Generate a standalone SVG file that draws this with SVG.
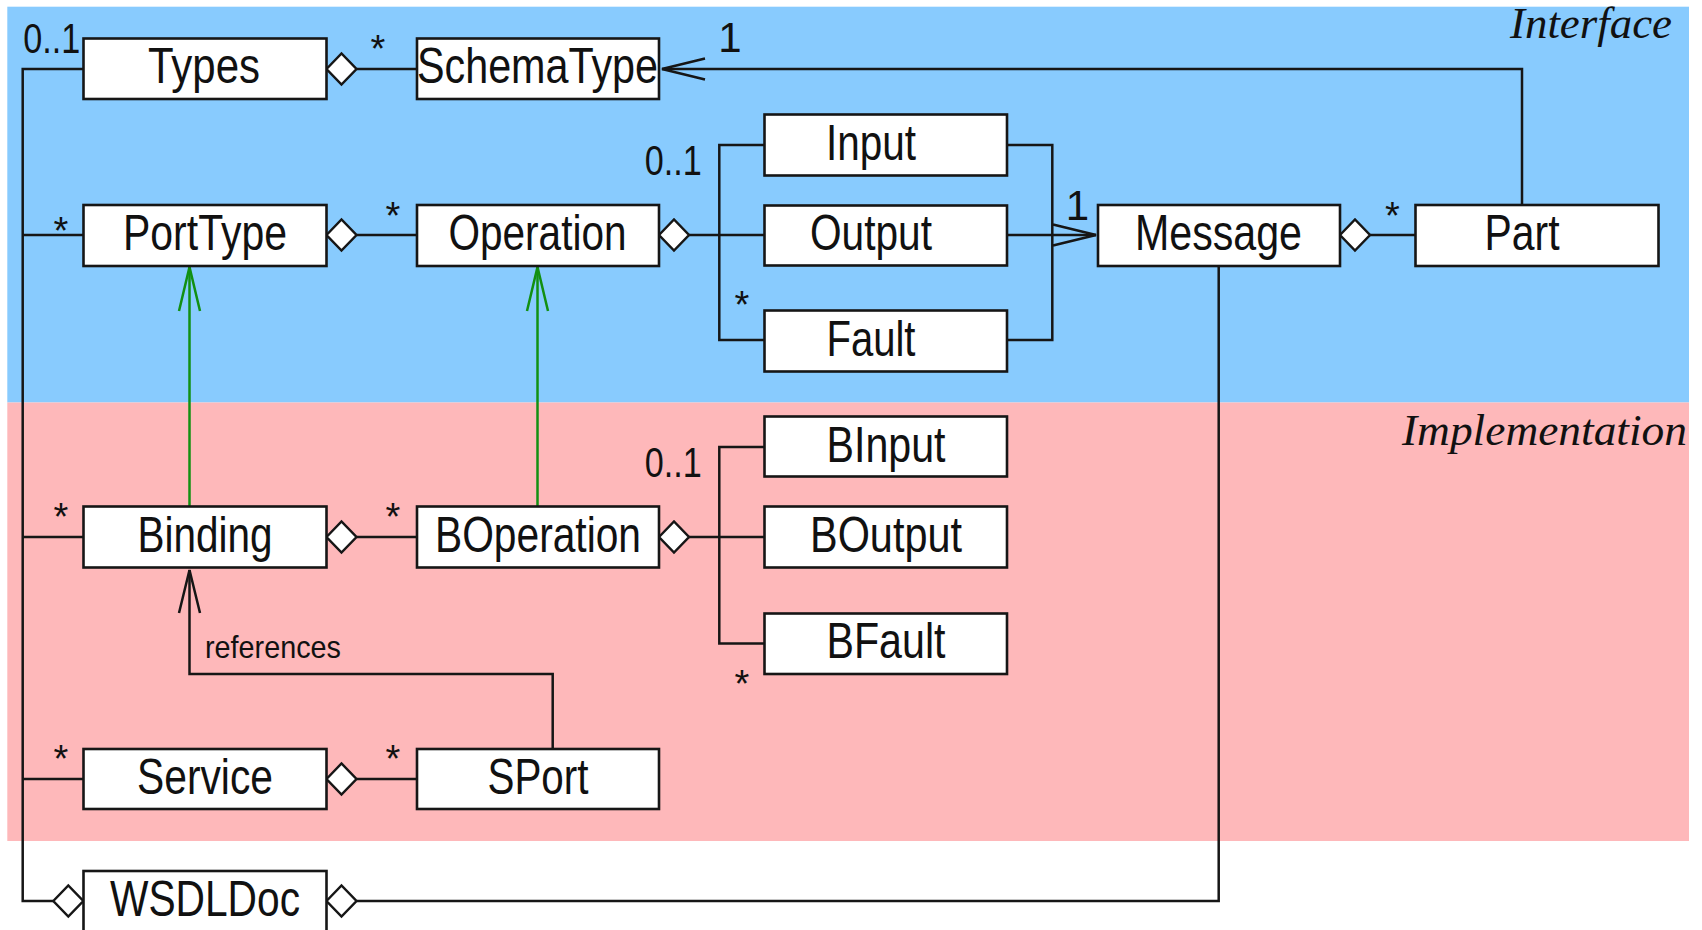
<svg xmlns="http://www.w3.org/2000/svg" width="1702" height="930" viewBox="0 0 1702 930">
  <style>
    .box { fill: #ffffff; stroke: #161616; stroke-width: 2.6; }
    .lbl { font-family: "Liberation Sans", Arial, sans-serif; font-size: 50px; text-anchor: middle; fill: #111111; }
    .mult { font-family: "Liberation Sans", Arial, sans-serif; font-size: 42px; text-anchor: middle; fill: #111111; }
    .star { font-family: "Liberation Sans", Arial, sans-serif; font-size: 38px; text-anchor: middle; fill: #111111; }
    .note { font-family: "Liberation Sans", Arial, sans-serif; font-size: 32px; fill: #111111; }
    .zone { font-family: "Liberation Serif", "Times New Roman", serif; font-style: italic; font-size: 44px; fill: #111111; }
    .wire { fill: none; stroke: #161616; stroke-width: 2.5; }
    .refine { fill: none; stroke: #129012; stroke-width: 2.5; }
    .dia { fill: #ffffff; stroke: #161616; stroke-width: 2.5; stroke-linejoin: miter; }
  </style>
  <defs>
    <path id="dia" class="dia" d="M0,0 L15,-15.5 L30,0 L15,15.5 Z"/>
    <marker id="open" markerUnits="userSpaceOnUse" markerWidth="50" markerHeight="30" viewBox="-50 -15 50 30" refX="0" refY="0" orient="auto" overflow="visible">
      <path d="M-43,-10.5 L0,0 L-43,10.5" fill="none" stroke="#161616" stroke-width="2.5"/>
    </marker>
    <marker id="openGreen" markerUnits="userSpaceOnUse" markerWidth="50" markerHeight="30" viewBox="-50 -15 50 30" refX="0" refY="0" orient="auto" overflow="visible">
      <path d="M-44,-10.5 L0,0 L-44,10.5" fill="none" stroke="#129012" stroke-width="2.5"/>
    </marker>
  </defs>

  <!-- layers -->
  <rect x="0" y="0" width="1702" height="930" fill="#ffffff"/>
  <rect id="interface-zone" x="7.3" y="6.7" width="1681.7" height="395.8" fill="#88CBFE"/>
  <rect id="implementation-zone" x="7.3" y="402.5" width="1681.7" height="438.5" fill="#FEB8BA"/>
  <text class="zone" x="1510" y="38" textLength="162" lengthAdjust="spacingAndGlyphs">Interface</text>
  <text class="zone" x="1402" y="445" textLength="285" lengthAdjust="spacingAndGlyphs">Implementation</text>

  <g id="connectors">
    <!-- document trunk on the left -->
    <path class="wire" d="M83.5,69 H22.7 V901 H53"/>
    <path class="wire" d="M22.7,235 H83.5"/>
    <path class="wire" d="M22.7,537 H83.5"/>
    <path class="wire" d="M22.7,779 H83.5"/>
    <!-- aggregations between columns -->
    <path class="wire" d="M357,69 H417"/>
    <path class="wire" d="M357,235 H417"/>
    <path class="wire" d="M357,537 H417"/>
    <path class="wire" d="M357,779 H417"/>
    <!-- operation messages -->
    <path class="wire" d="M689,235 H764.5"/>
    <path class="wire" d="M764.5,145 H719.3 V340 H764.5"/>
    <path class="wire" d="M1007,145 H1052.3 V340 H1007"/>
    <path class="wire" d="M1007,235 H1096" marker-end="url(#open)"/>
    <!-- binding operation messages -->
    <path class="wire" d="M689,537 H764.5"/>
    <path class="wire" d="M764.5,447 H719.3 V643.5 H764.5"/>
    <!-- message parts -->
    <path class="wire" d="M1370,235 H1415.5"/>
    <path class="wire" d="M1522,205 V69 H662" marker-end="url(#open)"/>
    <!-- message to document -->
    <path class="wire" d="M1218.7,266 V901 H357"/>
    <!-- port references binding -->
    <path class="wire" d="M552.7,749 V674 H189.5 V570" marker-end="url(#open)"/>
    <!-- refinements -->
    <path class="refine" d="M189.5,506.5 V267" marker-end="url(#openGreen)"/>
    <path class="refine" d="M537.5,506.5 V267" marker-end="url(#openGreen)"/>
    <!-- aggregation diamonds -->
    <use href="#dia" x="326.5" y="69"/>
    <use href="#dia" x="326.5" y="235"/>
    <use href="#dia" x="659" y="235"/>
    <use href="#dia" x="1340" y="235"/>
    <use href="#dia" x="326.5" y="537"/>
    <use href="#dia" x="659" y="537"/>
    <use href="#dia" x="326.5" y="779"/>
    <use href="#dia" x="53.3" y="901"/>
    <use href="#dia" x="326.5" y="901"/>
    <!-- multiplicities -->
    <text class="mult" x="51.7" y="53" textLength="57" lengthAdjust="spacingAndGlyphs">0..1</text>
    <text class="star" x="378" y="62">*</text>
    <text class="mult" x="730" y="52">1</text>
    <text class="star" x="61" y="244">*</text>
    <text class="star" x="393" y="229">*</text>
    <text class="mult" x="673.3" y="175" textLength="57" lengthAdjust="spacingAndGlyphs">0..1</text>
    <text class="star" x="742" y="318">*</text>
    <text class="mult" x="1077.5" y="220">1</text>
    <text class="star" x="1392.5" y="229">*</text>
    <text class="star" x="61" y="530">*</text>
    <text class="star" x="393" y="530">*</text>
    <text class="mult" x="673.3" y="476.5" textLength="57" lengthAdjust="spacingAndGlyphs">0..1</text>
    <text class="star" x="742" y="696.5">*</text>
    <text class="star" x="61" y="772">*</text>
    <text class="star" x="393" y="772">*</text>
    <text class="note" x="205" y="658" textLength="136" lengthAdjust="spacingAndGlyphs">references</text>
  </g>

  <g id="node-types">
    <rect class="box" x="83.5" y="38.5" width="243" height="60.5"/>
    <text class="lbl" x="204" y="83.3" textLength="112" lengthAdjust="spacingAndGlyphs">Types</text>
  </g>
  <g id="node-schematype">
    <rect class="box" x="417" y="38.5" width="242" height="60.5"/>
    <text class="lbl" x="537.5" y="83.3" textLength="241" lengthAdjust="spacingAndGlyphs">SchemaType</text>
  </g>
  <g id="node-porttype">
    <rect class="box" x="83.5" y="205" width="243" height="61"/>
    <text class="lbl" x="205" y="250" textLength="164" lengthAdjust="spacingAndGlyphs">PortType</text>
  </g>
  <g id="node-operation">
    <rect class="box" x="417" y="205" width="242" height="61"/>
    <text class="lbl" x="537.5" y="250" textLength="178" lengthAdjust="spacingAndGlyphs">Operation</text>
  </g>
  <g id="node-input">
    <rect class="box" x="764.5" y="114.5" width="242.5" height="61"/>
    <text class="lbl" x="871" y="160" textLength="90" lengthAdjust="spacingAndGlyphs">Input</text>
  </g>
  <g id="node-output">
    <rect class="box" x="764.5" y="205.5" width="242.5" height="60"/>
    <text class="lbl" x="871" y="250" textLength="122" lengthAdjust="spacingAndGlyphs">Output</text>
  </g>
  <g id="node-fault">
    <rect class="box" x="764.5" y="310.5" width="242.5" height="61"/>
    <text class="lbl" x="871" y="355.5" textLength="89" lengthAdjust="spacingAndGlyphs">Fault</text>
  </g>
  <g id="node-message">
    <rect class="box" x="1098" y="205" width="242" height="61"/>
    <text class="lbl" x="1218.5" y="250" textLength="167" lengthAdjust="spacingAndGlyphs">Message</text>
  </g>
  <g id="node-part">
    <rect class="box" x="1415.5" y="205" width="243" height="61"/>
    <text class="lbl" x="1522" y="250" textLength="75" lengthAdjust="spacingAndGlyphs">Part</text>
  </g>
  <g id="node-binput">
    <rect class="box" x="764.5" y="416.5" width="242.5" height="60"/>
    <text class="lbl" x="886" y="461.5" textLength="119" lengthAdjust="spacingAndGlyphs">BInput</text>
  </g>
  <g id="node-binding">
    <rect class="box" x="83.5" y="506.5" width="243" height="61"/>
    <text class="lbl" x="205" y="551.5" textLength="135" lengthAdjust="spacingAndGlyphs">Binding</text>
  </g>
  <g id="node-boperation">
    <rect class="box" x="417" y="506.5" width="242" height="61"/>
    <text class="lbl" x="538" y="551.5" textLength="206" lengthAdjust="spacingAndGlyphs">BOperation</text>
  </g>
  <g id="node-boutput">
    <rect class="box" x="764.5" y="506.5" width="242.5" height="61"/>
    <text class="lbl" x="886" y="551.5" textLength="152" lengthAdjust="spacingAndGlyphs">BOutput</text>
  </g>
  <g id="node-bfault">
    <rect class="box" x="764.5" y="613.5" width="242.5" height="60.5"/>
    <text class="lbl" x="886" y="658" textLength="119" lengthAdjust="spacingAndGlyphs">BFault</text>
  </g>
  <g id="node-service">
    <rect class="box" x="83.5" y="749" width="243" height="60"/>
    <text class="lbl" x="205" y="793.5" textLength="136" lengthAdjust="spacingAndGlyphs">Service</text>
  </g>
  <g id="node-sport">
    <rect class="box" x="417" y="749" width="242" height="60"/>
    <text class="lbl" x="538" y="793.5" textLength="101" lengthAdjust="spacingAndGlyphs">SPort</text>
  </g>
  <g id="node-wsdldoc">
    <rect class="box" x="83.5" y="871" width="243" height="61"/>
    <text class="lbl" x="205" y="915.5" textLength="190" lengthAdjust="spacingAndGlyphs">WSDLDoc</text>
  </g>
</svg>
